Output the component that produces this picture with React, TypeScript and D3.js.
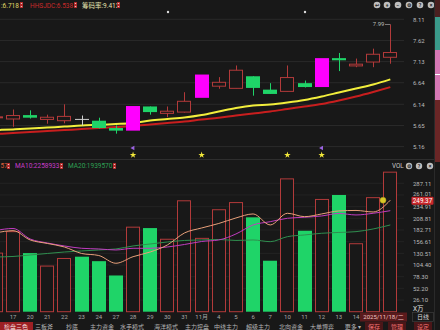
import React from 'react';
import * as d3 from 'd3';

// ---------- data ----------
const dates = [
  '2025-10-16','2025-10-17','2025-10-20','2025-10-21','2025-10-22','2025-10-23','2025-10-24',
  '2025-10-27','2025-10-28','2025-10-29','2025-10-30','2025-10-31','2025-11-03','2025-11-04',
  '2025-11-05','2025-11-06','2025-11-07','2025-11-10','2025-11-11','2025-11-12','2025-11-13',
  '2025-11-14','2025-11-17','2025-11-18'
];
const dateLabels = ['16','17','20','21','22','23','24','27','28','29','30','31','11月','4','5','6','7','10','11','12','13','14','17','18'];
const opens  = [5.83,5.80,5.89,5.79,5.76,5.79,5.76,5.59,5.53,6.09,5.93,5.96,6.29,6.56,6.51,6.79,6.48,6.44,6.63,6.54,7.21,7.03,7.12,7.23];
const closes = [5.85,5.88,5.83,5.84,5.86,5.79,5.59,5.53,6.10,5.96,5.98,6.21,6.83,6.65,6.93,6.52,6.38,6.76,6.54,7.21,7.16,7.07,7.30,7.34];
const highs  = [5.95,6.02,6.00,5.90,6.14,5.88,5.83,5.65,6.10,6.09,6.09,6.42,6.83,6.77,7.04,6.79,6.63,7.04,6.69,7.21,7.33,7.20,7.43,7.99];
const lows   = [5.74,5.62,5.81,5.69,5.70,5.65,5.58,5.46,5.53,5.90,5.84,5.95,6.29,6.50,6.51,6.34,6.38,6.44,6.53,6.54,6.91,7.00,7.00,7.08];
const limitUpDates = ['2025-10-28','2025-11-03','2025-11-12'];
const maYellow = [5.543,5.559,5.578,5.601,5.624,5.648,5.664,5.682,5.706,5.764,5.799,5.834,5.892,5.973,6.054,6.112,6.136,6.182,6.240,6.321,6.414,6.507,6.600,6.718];
const maRed    = [5.450,5.473,5.497,5.520,5.543,5.566,5.590,5.613,5.636,5.671,5.706,5.741,5.787,5.827,5.880,5.926,5.973,6.031,6.089,6.147,6.228,6.321,6.426,6.538];
const volumes  = [131,179,131,102,119,123,113,81,189,187,162,248,164,228,244,211,114,297,181,251,261,152,255,312];
const volMA5   = [176.1,181.2,160.4,152.6,144.7,130.2,125.7,108.3,123,133.5,149.2,176.1,187.2,197.3,209.6,218.6,194,220.1,212.5,218.6,225.3,226.4,223,249.37];
const volMA10  = [181.6,186.1,162.6,153.7,147,141.8,140.3,138,141.8,141.8,144.7,150.3,157,160.4,173.8,194,201.3,208.9,211.2,214.1,219.7,216.3,220.1,225.89];
const volMA20  = [122.4,123.5,126.8,130.2,133.5,135.8,138,140.3,147,151.4,155.9,159.3,160.4,161.5,159.3,160.4,156.6,167.8,171.6,175.4,177.2,179,185,193.96];
const priceTicks = [8.11,7.62,7.13,6.64,6.14,5.65,5.16];
const volTicks = [287.11,261.01,234.91,208.81,182.71,156.61,130.51,104.40,78.30,52.20,26.10];
const starDates = ['2025-10-28','2025-11-03','2025-11-10','2025-11-12'];
const arrowDates = ['2025-10-28','2025-11-12'];
const toolbarLabels = ['检盘三色','三板斧','抄底','主力资金','水手模式','海洋模式','主力控盘','中线主力','超级主力','北向资金','大单博弈','更多 ▾'];
const toolbarX = [16,44,72,102,132,166,197,226,258,291,322,353];
const actionLabels = ['保存','管理','设定'];
const actionX = [374,397,423];

const BG = '#181818';
const GRID = '#2a2a2a';
const RED = '#b23a3a';
const GREEN = '#1fd468';
const MAGENTA = '#ff00ff';
const FONT = "Roboto, 'Noto Sans CJK SC', sans-serif";

export default function App() {
  const x = d3.scalePoint<string>().domain(dates).range([-4.15, 390.3]);
  const yP = d3.scaleLinear().domain([5.16, 8.11]).range([146.6, 19.3]);
  const yV = d3.scaleLinear().domain([0, 287.11]).range([311.7, 183.3]);
  const bw = 14;

  const lineP = (arr: number[]) =>
    d3.line<number>().x((_, i) => x(dates[i])!).y((v) => yP(v)).curve(d3.curveMonotoneX)(arr)!;
  const lineV = (arr: number[]) =>
    d3.line<number>().x((_, i) => x(dates[i])!).y((v) => yV(v)).curve(d3.curveMonotoneX)(arr)!;

  const star = d3.symbol().type(d3.symbolStar).size(13)()!;
  const tri = d3.symbol().type(d3.symbolTriangle).size(9)()!;

  const hiIdx = d3.maxIndex(highs);
  const hiX = x(dates[hiIdx])!;
  const hiY = yP(highs[hiIdx]);

  const legendIcon = (lx: number, ly: number) => (
    <g>
      <rect x={lx} y={ly - 3} width={3} height={6} fill="#b02828" />
      <path d={`M${lx + 1.5},${ly - 2.2}l1,1.2h-2z M${lx + 1.5},${ly + 2.2}l1,-1.2h-2z`} fill="#f0d0d0" />
    </g>
  );

  const boxX0 = 360, boxX1 = 407;

  return (
    <svg width={440} height={330} style={{ position: 'fixed', left: 0, top: 0, background: BG }} fontFamily={FONT}>
      <rect width={440} height={330} fill={BG} />

      {/* price grid */}
      {priceTicks.map((t) => (
        <line key={'pg' + t} x1={0} x2={404} y1={yP(t)} y2={yP(t)} stroke={GRID} strokeWidth={1} />
      ))}
      <line x1={0} x2={434} y1={159.5} y2={159.5} stroke="#2e2e2e" />
      {/* volume grid */}
      {volTicks.map((t) => (
        <line key={'vg' + t} x1={0} x2={404} y1={yV(t)} y2={yV(t)} stroke="#232323" strokeWidth={1} />
      ))}

      {/* top legend */}
      <g fontSize={6.5}>
        <text x={1} y={7.6} fill="#e0dc6a">:6.718</text>
        {legendIcon(20, 5)}
        <text x={30} y={7.6} fill="#c82a2a">HHSJDC:6.538</text>
        {legendIcon(74, 5)}
        <text x={82} y={7.6} fill="#e6e4b0">筹码率:9.413</text>
        {legendIcon(117, 5)}
      </g>
      <circle cx={168} cy={12} r={1.2} fill="#ddd" />
      <circle cx={305} cy={12} r={1.2} fill="#ddd" />

      {/* top-right icons */}
      {[377, 387, 398, 409, 420, 431].map((cx, i) => (
        <g key={'ic' + i}>
          <circle cx={cx} cy={5} r={3.3} fill="#bdbdbd" />
          <text x={cx} y={7} fontSize={5} textAnchor="middle" fill="#222" fontWeight="bold">
            {['↩', '+', '−', '⚙', '?', '×'][i]}
          </text>
        </g>
      ))}

      {/* MA lines price */}
      <path d={lineP(maRed)} fill="none" stroke="#c81e1e" strokeWidth={2} />
      <path d={lineP(maYellow)} fill="none" stroke="#f2ee3c" strokeWidth={2} />

      {/* candles */}
      {dates.map((d, i) => {
        const cx = x(d)!;
        const o = opens[i], c = closes[i];
        const lim = limitUpDates.includes(d);
        const top = yP(Math.max(o, c));
        const bot = yP(Math.min(o, c));
        const h = Math.max(bot - top, 1);
        let col = RED;
        if (lim) col = MAGENTA;
        else if (c < o) col = GREEN;
        else if (c === o) col = '#d0d0d0';
        const rx = Math.round(cx - bw / 2) + 0.5;
        return (
          <g key={'c' + d}>
            {!lim && (
              <line x1={Math.round(cx) + 0.5} x2={Math.round(cx) + 0.5} y1={yP(highs[i])} y2={yP(lows[i])} stroke={col} strokeWidth={1} />
            )}
            {lim ? (
              <rect x={rx - 0.5} y={top} width={bw} height={h} fill={MAGENTA} />
            ) : c > o ? (
              <rect x={rx} y={top} width={bw - 1} height={h} fill={BG} stroke={RED} strokeWidth={1} />
            ) : c < o ? (
              <rect x={rx - 0.5} y={top} width={bw} height={h} fill={GREEN} />
            ) : (
              <line x1={rx - 0.5} x2={rx + bw - 0.5} y1={top} y2={top} stroke={col} strokeWidth={1} />
            )}
          </g>
        );
      })}

      {/* highest price annotation */}
      <line x1={385} x2={hiX} y1={hiY} y2={hiY} stroke="#aaa" strokeWidth={0.7} />
      <text x={384.5} y={hiY + 2} fontSize={6} textAnchor="end" fill="#bbb">{highs[hiIdx].toFixed(2)}</text>

      {/* signals */}
      {arrowDates.map((d) => (
        <path key={'a' + d} d={tri} transform={`translate(${x(d)},148) rotate(-90)`} fill="#9a62e0" />
      ))}
      {starDates.map((d) => (
        <path key={'s' + d} d={star} transform={`translate(${x(d)},155)`} fill="#f4ea3a" />
      ))}

      {/* price axis labels */}
      {priceTicks.map((t) => (
        <text key={'pt' + t} x={413} y={yP(t) + 2.2} fontSize={6} fill="#b8b8b8">{t.toFixed(2)}</text>
      ))}

      {/* volume legend */}
      <g fontSize={6.5}>
        <text x={0.5} y={168.4} fill="#e0603c">57</text>
        {legendIcon(7, 166)}
        <text x={15} y={168.4} fill="#c83cc8">MA10:2258933</text>
        {legendIcon(60, 166)}
        <text x={68} y={168.4} fill="#2fa055">MA20:1939570</text>
        {legendIcon(113, 166)}
      </g>
      <text x={392} y={168.3} fontSize={6.3} fill="#c8c8c8">VOL</text>
      {[409, 419, 430].map((cx, i) => (
        <g key={'vi' + i}>
          <circle cx={cx} cy={166} r={3.2} fill="#bdbdbd" />
          <text x={cx} y={168} fontSize={5} textAnchor="middle" fill="#222" fontWeight="bold">{['⚙', '?', '×'][i]}</text>
        </g>
      ))}

      {/* volume bars */}
      {dates.map((d, i) => {
        const cx = x(d)!;
        const prev = i > 0 ? closes[i - 1] : opens[i];
        const up = closes[i] > opens[i] || (closes[i] === opens[i] && closes[i] >= prev);
        const top = yV(volumes[i]);
        const rx = Math.round(cx - bw / 2) + 0.5;
        return up ? (
          <rect key={'v' + d} x={rx} y={top} width={bw - 1} height={311.7 - top} fill={BG} stroke={RED} strokeWidth={1} />
        ) : (
          <rect key={'v' + d} x={rx - 0.5} y={top} width={bw} height={311.7 - top} fill={GREEN} />
        );
      })}

      {/* volume MA lines */}
      <path d={lineV(volMA20)} fill="none" stroke="#2f8f4f" strokeWidth={1} />
      <path d={lineV(volMA10)} fill="none" stroke="#c03cc0" strokeWidth={1} />
      <path d={lineV(volMA5)} fill="none" stroke="#e8a07a" strokeWidth={1} />
      <circle cx={383} cy={yV(volMA5[volMA5.length - 1])} r={3} fill="#d8c828" stroke="#a89818" strokeWidth={0.5} />

      {/* volume axis labels */}
      {volTicks.map((t) => (
        <text key={'vt' + t} x={413} y={yV(t) + (t === 261.01 ? 0.8 : 2.2)} fontSize={6} fill="#b8b8b8">{t.toFixed(2)}</text>
      ))}
      <text x={413} y={310.5} fontSize={6.5} fill="#e0e0e0">X万</text>
      <rect x={411.5} y={196.8} width={22} height={8} rx={1} fill="#c8282c" />
      <text x={422.5} y={203.2} fontSize={6.3} textAnchor="middle" fill="#fff">
        {volMA5[volMA5.length - 1].toFixed(2)}
      </text>

      {/* date labels (those behind the cursor date box are hidden) */}
      {dates.map((d, i) => {
        const lx = x(d)!;
        if (lx < 4 || (lx > boxX0 - 4 && lx < boxX1 + 4)) return null;
        return (
          <text key={'dl' + d} x={lx} y={319} fontSize={6} textAnchor="middle" fill="#a8a8a8">{dateLabels[i]}</text>
        );
      })}
      <rect x={boxX0} y={312.5} width={boxX1 - boxX0} height={9} fill="#5a1a1c" />
      <text x={(boxX0 + boxX1) / 2} y={319.3} fontSize={6} textAnchor="middle" fill="#f0c4c4">2025/11/18/二</text>
      <rect x={412.5} y={312.5} width={21} height={9} fill="none" stroke="#444" strokeWidth={0.6} />
      <text x={423} y={319.3} fontSize={6} textAnchor="middle" fill="#d8d8d8">日线</text>

      {/* bottom toolbar */}
      <rect x={0} y={322} width={33} height={8} fill="#9c2024" />
      {toolbarLabels.map((t, i) => (
        <text key={'tb' + i} x={toolbarX[i]} y={328.8} fontSize={6} textAnchor="middle" fill={i === 0 ? '#f4dede' : '#b4b4b4'}>{t}</text>
      ))}
      {actionLabels.map((t, i) => (
        <g key={'ac' + i}>
          <rect x={actionX[i] - 9} y={322} width={18} height={8} fill="#4a1618" />
          <text x={actionX[i]} y={328.8} fontSize={6} textAnchor="middle" fill="#f07070">{t}</text>
        </g>
      ))}

      {/* right edge of neighbouring panel */}
      <line x1={434.5} x2={434.5} y1={0} y2={330} stroke="#2a2a2a" />
      <rect x={435} y={0} width={5} height={17} fill="#4a2020" />
      <rect x={435} y={17} width={5} height={33} fill="#3a9a8a" />
      <rect x={435} y={50} width={5} height={50} fill="#d678b4" />
      <rect x={435} y={74} width={5} height={1} fill="#fff" />
      <rect x={435} y={100} width={5} height={62} fill="#6a2626" />
    </svg>
  );
}
